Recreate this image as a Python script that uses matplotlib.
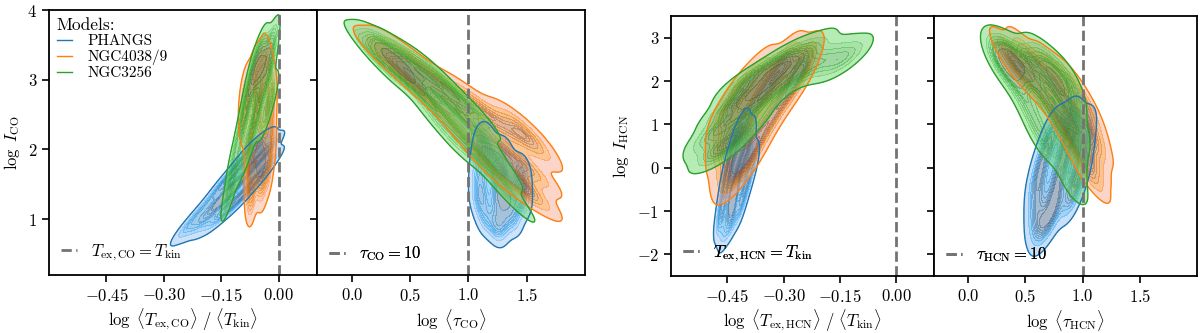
import matplotlib
matplotlib.use('Agg')
import matplotlib.pyplot as plt
import seaborn as sns
from matplotlib.lines import Line2D

plt.rcParams['font.family'] = 'serif'
plt.rcParams['font.serif'] = ['cmr10']
plt.rcParams['mathtext.fontset'] = 'cm'
plt.rcParams['axes.formatter.use_mathtext'] = True
plt.rcParams['axes.linewidth'] = 1.3

models = ['PHANGS', 'NGC4038/9', 'NGC3256']
colors = ['C0', 'C1', 'C2']

# --- CO: log Tex/Tkin vs log I_CO (model points)
co_tex = {
    'PHANGS': [-0.25, -0.22, -0.22, -0.19, -0.19, -0.19, -0.16, -0.16, -0.16, -0.14, -0.14, -0.14, -0.14,
               -0.12, -0.12, -0.12, -0.10, -0.10, -0.10, -0.08, -0.08, -0.08, -0.06, -0.06, -0.06,
               -0.04, -0.04, -0.04, -0.02, -0.02],
    'NGC4038/9': [-0.075, -0.07, -0.045, -0.075, -0.05, -0.03, -0.07, -0.05, -0.03, -0.05, -0.07, -0.045, -0.02,
                  -0.09, -0.06, -0.025, -0.09, -0.055, -0.02, -0.08, -0.05, -0.02, -0.06, -0.03, -0.04],
    'NGC3256': [-0.13, -0.12, -0.115, -0.09, -0.10, -0.07, -0.09, -0.06, -0.035, -0.08, -0.05, -0.02,
                -0.07, -0.05, -0.03, -0.055, -0.065, -0.045, -0.025, -0.045, -0.05, -0.025, -0.02],
}
co_I = {
    'PHANGS': [0.82, 0.88, 1.02, 0.92, 1.05, 1.2, 1.0, 1.2, 1.4, 1.15, 1.35, 1.55, 1.35,
               1.2, 1.4, 1.65, 1.3, 1.55, 1.8, 1.45, 1.7, 1.95, 1.55, 1.8, 2.05,
               1.7, 1.95, 2.1, 1.85, 2.05],
    'NGC4038/9': [1.25, 1.45, 1.45, 1.7, 1.7, 1.7, 1.9, 1.9, 1.9, 1.9, 2.1, 2.1, 2.1,
                  2.4, 2.4, 2.4, 2.65, 2.65, 2.65, 2.9, 2.9, 2.9, 3.15, 3.15, 3.3],
    'NGC3256': [1.35, 1.6, 1.9, 1.9, 2.2, 2.2, 2.5, 2.5, 2.5, 2.75, 2.75, 2.75,
                3.0, 3.0, 3.0, 3.15, 3.2, 3.2, 3.2, 3.25, 3.4, 3.4, 3.5],
}

# --- CO: log tau_CO vs log I_CO
co_tau = {
    'PHANGS': [1.25, 1.15, 1.28, 1.38, 1.1, 1.25, 1.35, 1.45, 1.1, 1.28, 1.3, 1.45, 1.1, 1.25, 1.45,
               1.12, 1.3, 1.15],
    'NGC4038/9': [0.25, 0.4, 0.4, 0.55, 0.55, 0.7, 0.7, 0.85, 0.85, 1.0, 1.0, 1.0, 1.15, 1.15, 1.15,
                  1.3, 1.3, 1.3, 1.3, 1.45, 1.45, 1.45, 1.55, 1.55, 1.55, 1.45],
    'NGC3256': [0.12, 0.2, 0.2, 0.3, 0.3, 0.3, 0.4, 0.4, 0.4, 0.4, 0.5, 0.5, 0.5, 0.6, 0.6, 0.6,
                0.7, 0.7, 0.7, 0.8, 0.8, 0.8, 0.9, 0.9, 0.9, 1.0, 1.0, 1.0, 1.1, 1.1, 1.1,
                1.2, 1.2, 1.3, 1.3, 1.4, 0.38, 0.4, 0.7, 0.9],
}
co_I2 = {
    'PHANGS': [0.85, 1.0, 1.0, 1.0, 1.25, 1.25, 1.25, 1.25, 1.45, 1.45, 1.45, 1.45, 1.7, 1.7, 1.7,
               1.95, 1.95, 2.15],
    'NGC4038/9': [3.4, 3.2, 3.4, 2.95, 3.2, 2.75, 3.0, 2.5, 2.8, 2.2, 2.5, 2.75, 1.9, 2.2, 2.5,
                  1.6, 1.75, 1.9, 2.3, 1.5, 1.8, 2.25, 1.35, 1.7, 2.05, 2.35],
    'NGC3256': [3.5, 3.35, 3.5, 3.15, 3.3, 3.45, 3.1, 3.25, 3.2, 3.4, 3.0, 3.15, 3.3, 2.8, 3.0, 3.2,
                2.6, 2.9, 3.1, 2.45, 2.75, 2.95, 2.2, 2.55, 2.75, 2.1, 2.4, 2.6, 1.85, 2.2, 2.45,
                1.7, 1.95, 1.45, 1.7, 1.25, 3.25, 3.25, 2.45, 2.05],
}

# --- HCN: log Tex/Tkin vs log I_HCN
hcn_tex = {
    'PHANGS': [-0.46, -0.47, -0.44, -0.465, -0.44, -0.42, -0.46, -0.435, -0.435, -0.41, -0.455, -0.43, -0.40,
               -0.45, -0.42, -0.39, -0.44, -0.41, -0.38, -0.43, -0.395, -0.42, -0.39, -0.405],
    'NGC4038/9': [-0.44, -0.45, -0.41, -0.46, -0.42, -0.38, -0.46, -0.42, -0.36, -0.46, -0.40, -0.33,
                  -0.43, -0.36, -0.30, -0.40, -0.34, -0.27, -0.36, -0.30, -0.25, -0.29, -0.24],
    'NGC3256': [-0.50, -0.50, -0.47, -0.47, -0.47, -0.43, -0.43, -0.43, -0.43, -0.39, -0.39, -0.39, -0.39, -0.39,
                -0.35, -0.35, -0.35, -0.35, -0.31, -0.31, -0.31, -0.31, -0.27, -0.27, -0.27,
                -0.22, -0.22, -0.22, -0.17, -0.17, -0.13, -0.13, -0.48, -0.45],
}
hcn_I = {
    'PHANGS': [-1.55, -1.3, -1.3, -1.0, -1.0, -1.0, -0.7, -0.7, -0.65, -0.7, -0.4, -0.4, -0.4,
               -0.1, -0.1, -0.1, 0.2, 0.2, 0.2, 0.5, 0.5, 0.75, 0.75, 0.95],
    'NGC4038/9': [-0.3, 0.0, 0.0, 0.4, 0.4, 0.4, 0.8, 0.8, 0.8, 1.2, 1.2, 1.2,
                  1.6, 1.6, 1.6, 1.95, 1.95, 1.95, 2.3, 2.3, 2.3, 2.6, 2.6],
    'NGC3256': [0.55, 0.8, 0.5, 0.9, 1.3, 0.7, 1.1, 1.5, 1.9, 1.0, 1.4, 1.65, 1.65, 2.0,
                1.5, 1.8, 2.1, 2.3, 1.9, 2.2, 2.25, 2.5, 2.1, 2.4, 2.65,
                2.3, 2.55, 2.8, 2.4, 2.65, 2.45, 2.65, 0.35, 0.4],
}

# --- HCN: log tau_HCN vs log I_HCN
hcn_tau = {
    'PHANGS': [0.88, 0.75, 0.92, 1.02, 0.68, 0.85, 1.0, 0.63, 0.8, 0.98, 0.6, 0.78, 0.94,
               0.6, 0.75, 0.88, 0.6, 0.72, 0.63],
    'NGC4038/9': [0.35, 0.5, 0.42, 0.58, 0.72, 0.55, 0.72, 0.9, 0.7, 0.85, 1.0, 0.82, 0.95, 1.06,
                  0.92, 1.03, 1.1, 1.0, 1.08, 1.08],
    'NGC3256': [0.3, 0.25, 0.42, 0.6, 0.3, 0.4, 0.4, 0.55, 0.72, 0.38, 0.55, 0.72, 0.85,
                0.48, 0.65, 0.8, 0.9, 0.55, 0.72, 0.88, 0.62, 0.8, 0.93, 0.68, 0.9, 0.9, 0.92],
}
hcn_I2 = {
    'PHANGS': [1.1, 0.9, 0.9, 0.9, 0.45, 0.45, 0.45, 0.0, 0.0, 0.0, -0.4, -0.4, -0.4,
               -0.8, -0.8, -0.8, -1.2, -1.2, -1.5],
    'NGC4038/9': [2.65, 2.65, 2.35, 2.35, 2.35, 2.0, 2.0, 2.0, 1.55, 1.55, 1.55, 1.1, 1.1, 1.1,
                  0.65, 0.65, 0.65, 0.2, 0.2, -0.25],
    'NGC3256': [2.7, 2.6, 2.6, 2.6, 2.4, 2.4, 2.4, 2.4, 2.4, 2.1, 2.1, 2.1, 2.1,
                1.7, 1.7, 1.7, 1.7, 1.3, 1.3, 1.3, 0.9, 0.9, 0.9, 0.55, 0.55, 0.1, -0.4],
}

tex_ticks = [-0.45, -0.30, -0.15, 0.00]
tau_ticks = [0.0, 0.5, 1.0, 1.5]
co_yticks = [1, 2, 3, 4]
hcn_yticks = [-2, -1, 0, 1, 2, 3]

fig = plt.figure(figsize=(12, 3.33), dpi=100)
ax1 = fig.add_axes([49/1200, 58/333, 268/1200, 265/333])
ax2 = fig.add_axes([317/1200, 58/333, 268/1200, 265/333], sharey=ax1)
ax3 = fig.add_axes([671/1200, 57/333, 263/1200, 260/333])
ax4 = fig.add_axes([934/1200, 57/333, 263/1200, 260/333], sharey=ax3)

panels = [(ax1, co_tex, co_I), (ax2, co_tau, co_I2), (ax3, hcn_tex, hcn_I), (ax4, hcn_tau, hcn_I2)]
for ax, xs, ys in panels:
    for m, c in zip(models, colors):
        sns.kdeplot(x=xs[m], y=ys[m], fill=True, levels=10, thresh=0.05, color=c,
                    alpha=0.45, bw_adjust=0.72, ax=ax)
        sns.kdeplot(x=xs[m], y=ys[m], levels=[0.05], color=c, linewidths=1.0,
                    bw_adjust=0.72, ax=ax)

for ax in (ax1, ax3):
    ax.axvline(0.0, color='0.45', ls='--', lw=2)
    ax.set_xlim(-0.6, 0.1)
    ax.set_xticks(tex_ticks)
    ax.set_xticklabels(['$%.2f$' % t for t in tex_ticks])
for ax in (ax2, ax4):
    ax.axvline(1.0, color='0.45', ls='--', lw=2)
    ax.set_xlim(-0.3, 2.0)
    ax.set_xticks(tau_ticks)
    ax.set_xticklabels(['$%.1f$' % t for t in tau_ticks])
    ax.tick_params(labelleft=False)

ax1.set_ylim(0.2, 4.0)
ax1.set_yticks(co_yticks)
ax1.set_yticklabels(['$%d$' % t for t in co_yticks])
ax3.set_ylim(-2.5, 3.5)
ax3.set_yticks(hcn_yticks)
ax3.set_yticklabels(['$%d$' % t for t in hcn_yticks])

for ax in (ax1, ax2, ax3, ax4):
    ax.tick_params(labelsize=12, width=1.2, length=5)

ax1.set_xlabel(r'$\log\ \langle T_{\mathrm{ex,CO}}\rangle\ /\ \langle T_{\mathrm{kin}}\rangle$', fontsize=12, labelpad=2)
ax2.set_xlabel(r'$\log\ \langle \tau_{\mathrm{CO}}\rangle$', fontsize=12, labelpad=2)
ax3.set_xlabel(r'$\log\ \langle T_{\mathrm{ex,HCN}}\rangle\ /\ \langle T_{\mathrm{kin}}\rangle$', fontsize=12, labelpad=2)
ax4.set_xlabel(r'$\log\ \langle \tau_{\mathrm{HCN}}\rangle$', fontsize=12, labelpad=2)
ax1.set_ylabel(r'$\log\ I_{\mathrm{CO}}$', fontsize=12)
ax3.set_ylabel(r'$\log\ I_{\mathrm{HCN}}$', fontsize=12)
ax2.set_ylabel('')
ax4.set_ylabel('')

dash_labels = [r'$T_{\mathrm{ex,CO}}=T_{\mathrm{kin}}$', r'$\tau_{\mathrm{CO}}=10$',
               r'$T_{\mathrm{ex,HCN}}=T_{\mathrm{kin}}$', r'$\tau_{\mathrm{HCN}}=10$']
for ax, lab in zip((ax1, ax2, ax3, ax4), dash_labels):
    h = Line2D([], [], color='0.45', ls='--', lw=2)
    ax.legend([h], [lab], loc='lower left', frameon=False, fontsize=12,
              handlelength=1.0, handletextpad=0.8, borderaxespad=0.3)
    ax.add_artist(ax.get_legend())

handles = [Line2D([], [], color=c, lw=1) for c in colors]
leg = ax1.legend(handles, models, loc='upper left', frameon=False, fontsize=11,
                 title='Models:', title_fontsize=12.5, alignment='left',
                 handlelength=1.0, handletextpad=1.0, labelspacing=0.1,
                 borderaxespad=0.3, borderpad=0.2)

fig.savefig('out.png', dpi=100)
